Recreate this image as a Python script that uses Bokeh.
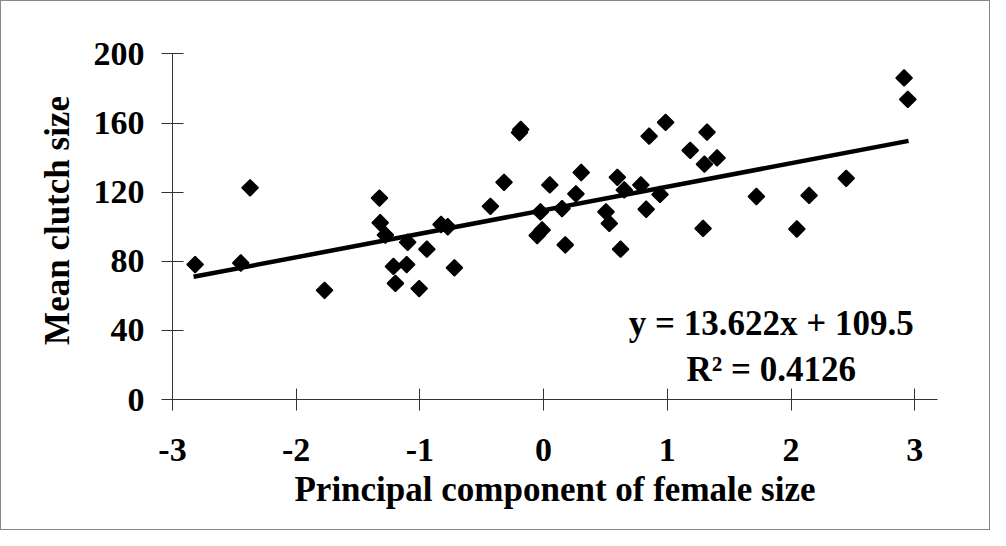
from bokeh.plotting import figure
from bokeh.models import FixedTicker, Label, ColumnDataSource
from bokeh.embed import file_html
from bokeh.resources import INLINE

# ---- data ----
pc_size = [-2.817, -2.448, -2.373, -1.771, -1.327, -1.321, -1.279, -1.214, -1.198,
           -1.107, -1.099, -1.006, -0.944, -0.829, -0.775, -0.721, -0.430, -0.320,
           -0.195, -0.185, -0.052, -0.012, -0.026, 0.050, 0.149, 0.175, 0.261, 0.304,
           0.504, 0.531, 0.596, 0.622, 0.652, 0.786, 0.829, 0.853, 0.941, 0.986,
           1.185, 1.289, 1.300, 1.321, 1.402, 1.720, 2.047, 2.146, 2.446, 2.914, 2.944]
clutch = [78.1, 79.0, 122.5, 63.2, 116.6, 102.3, 95.2, 77.0, 67.2,
          78.1, 91.0, 64.2, 87.0, 101.3, 100.0, 76.2, 111.8, 125.7,
          154.5, 156.3, 94.9, 98.1, 108.6, 124.2, 110.5, 89.5, 119.0, 131.4,
          108.6, 101.9, 128.6, 87.0, 121.3, 124.2, 110.1, 152.4, 118.7, 160.4,
          144.2, 99.0, 136.2, 154.7, 139.8, 117.5, 98.7, 118.1, 128.0, 186.1, 173.7]
trend_x = [-2.83, 2.95]
trend_y = [71.0, 149.7]
x_ticks = [-3, -2, -1, 0, 1, 2, 3]
x_tick_labels = ["-3", "-2", "-1", "0", "1", "2", "3"]
y_ticks = [0, 40, 80, 120, 160, 200]
equation_text = "y = 13.622x + 109.5"
r2_text = "R\u00b2 = 0.4126"
x_title = "Principal component of female size"
y_title = "Mean clutch size"

FONT = "Liberation Serif"

p = figure(width=990, height=530, output_backend="svg", toolbar_location=None,
           x_range=(-3.0, 3.184), y_range=(0, 207.2),
           min_border_left=171, min_border_right=54, min_border_top=40, min_border_bottom=132)
p.styles = {"border": "1px solid #888888", "box-sizing": "border-box"}
p.outline_line_color = None
p.grid.visible = False
p.background_fill_color = "white"
p.border_fill_color = "white"

# regression line
p.line(trend_x, trend_y, line_color="black", line_width=4.5)

# points
src = ColumnDataSource(dict(x=pc_size, y=clutch))
p.scatter("x", "y", source=src, marker="square", angle=0.785398, size=11.5,
          fill_color="black", line_color="black", line_width=1.5)

# axes
xa = p.xaxis[0]
xa.ticker = FixedTicker(ticks=x_ticks)
xa.major_label_overrides = {t: l for t, l in zip(x_ticks, x_tick_labels)}
xa.axis_label = x_title
ya = p.yaxis[0]
ya.ticker = FixedTicker(ticks=y_ticks)
ya.axis_label = y_title
ya.bounds = (0, 200)

for ax in (xa, ya):
    ax.minor_tick_line_color = None
    ax.major_tick_in = 11
    ax.major_tick_out = 11
    ax.axis_line_color = "#333333"
    ax.major_tick_line_color = "#333333"
    ax.axis_line_width = 1
    ax.major_label_text_font = FONT
    ax.major_label_text_font_style = "bold"
    ax.major_label_text_font_size = "34px"
    ax.major_label_text_color = "black"
    ax.axis_label_text_font = FONT
    ax.axis_label_text_font_style = "bold"
    ax.axis_label_text_font_size = "35px"
    ax.axis_label_text_color = "black"

xa.major_label_standoff = 28
xa.axis_label_standoff = 6
ya.major_label_standoff = 17
ya.axis_label_standoff = 14

for txt, yv in ((equation_text, 43.8), (r2_text, 17.1)):
    p.add_layout(Label(x=1.84, y=yv, text=txt, text_align="center",
                       text_baseline="alphabetic", text_font=FONT,
                       text_font_style="bold", text_font_size="35px",
                       text_color="black"))

open("out.html", "w").write(file_html(p, INLINE))
